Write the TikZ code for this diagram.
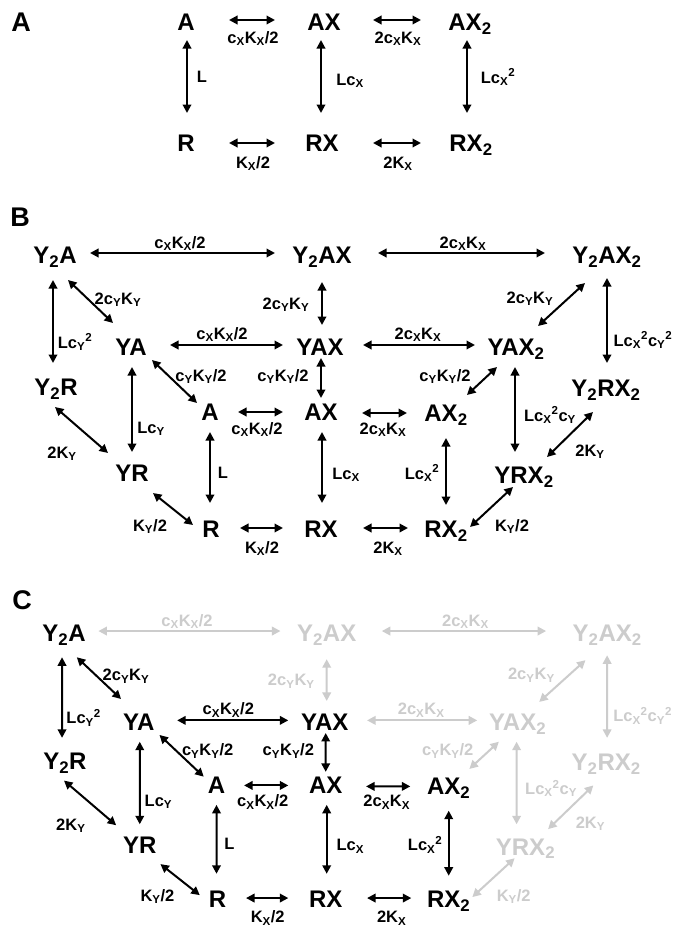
\documentclass[tikz,border=0pt]{standalone}
\usepackage{fontspec}
\setmainfont{Liberation Sans}
\usetikzlibrary{arrows.meta}
\newcommand\sbx[1]{\textsubscript{#1}}
\newcommand\spx[1]{\textsuperscript{#1}}
\tikzset{
 nd/.style={font=\fontsize{24bp}{28bp}\selectfont\bfseries, inner sep=0pt, text height=17bp, text depth=0pt},
 lb/.style={font=\fontsize{16.5bp}{19bp}\selectfont\bfseries, inner sep=0pt, text height=12bp, text depth=0pt},
 pl/.style={font=\fontsize{27bp}{30bp}\selectfont\bfseries, inner sep=0pt, text height=19bp, text depth=0pt},
 arr/.style={{Triangle[length=8.5bp,width=8.5bp]}-{Triangle[length=8.5bp,width=8.5bp]}, line width=2bp},
 gA/.style={},
}
\newcommand\edg[5][]{\draw[arr,#1] ([shift={#3}]#2.center) -- ([shift={#5}]#4.center);}
\newcommand\panelB{%
\node[nd] (Y2A) at (55,255) {Y\sbx{2}A};
\node[nd,gA] (Y2AX) at (322,255) {Y\sbx{2}AX};
\node[nd,gA] (Y2AX2) at (607,255) {Y\sbx{2}AX\sbx{2}};
\node[nd] (YA) at (131,347) {YA};
\node[nd] (YAX) at (320,347) {YAX};
\node[nd,gA] (YAX2) at (516,347) {YAX\sbx{2}};
\node[nd] (Y2R) at (56,387) {Y\sbx{2}R};
\node[nd,gA] (Y2RX2) at (606,388) {Y\sbx{2}RX\sbx{2}};
\node[nd] (A) at (210,412) {A};
\node[nd] (AX) at (321,412) {AX};
\node[nd] (AX2) at (446,413) {AX\sbx{2}};
\node[nd] (YR) at (132,473) {YR};
\node[nd,gA] (YRX2) at (524,475) {YRX\sbx{2}};
\node[nd] (R) at (211,529) {R};
\node[nd] (RX) at (321,529) {RX};
\node[nd] (RX2) at (446,529) {RX\sbx{2}};
\edg[gA]{Y2A}{(35,-2)}{Y2AX}{(-47,-2)}
\edg[gA]{Y2AX}{(56,-2)}{Y2AX2}{(-62,-2)}
\edg{Y2A}{(-2,25)}{Y2R}{(-3,-24)}
\edg{Y2A}{(13,25)}{YA}{(-18,-24)}
\edg[gA]{Y2AX}{(0,27)}{YAX}{(2,-22)}
\edg[gA]{Y2AX2}{(-22,28)}{YAX2}{(22,-21)}
\edg[gA]{Y2AX2}{(0,23)}{Y2RX2}{(1,-25)}
\edg{YA}{(39,-2)}{YAX}{(-37,-2)}
\edg[gA]{YAX}{(43,-2)}{YAX2}{(-41,-2)}
\edg{YA}{(21,13)}{A}{(-13,-9)}
\edg{YAX}{(1,11)}{AX}{(0,-14)}
\edg[gA]{YAX2}{(-19,20)}{AX2}{(21,-18)}
\edg{YA}{(1,20)}{YR}{(0,-21)}
\edg[gA]{YAX2}{(-1,20)}{YRX2}{(-9,-23)}
\edg{Y2R}{(-1,20)}{YR}{(-24,-20)}
\edg[gA]{Y2RX2}{(-13,24)}{YRX2}{(23,-18)}
\edg{A}{(28,0)}{AX}{(-38,0)}
\edg{AX}{(41,1)}{AX2}{(-39,0)}
\edg{A}{(0,20)}{R}{(-1,-26)}
\edg{AX}{(1,20)}{RX}{(1,-26)}
\edg{AX2}{(0,25)}{RX2}{(0,-24)}
\edg{YR}{(21,20)}{R}{(-18,-4)}
\edg[gA]{YRX2}{(-11,12)}{RX2}{(24,-2)}
\edg{R}{(29,-1)}{RX}{(-38,-1)}
\edg{RX}{(42,-1)}{RX2}{(-38,-1)}
\node[lb,gA] (l1) at (180,242) {c\sbx{X}K\sbx{X}/2};
\node[lb,gA] (l2) at (463,242) {2c\sbx{X}K\sbx{X}};
\node[lb] (l3) at (75,342) {Lc\sbx{Y}\spx{2}};
\node[lb] (l4) at (118,298) {2c\sbx{Y}K\sbx{Y}};
\node[lb,gA] (l5) at (286,303) {2c\sbx{Y}K\sbx{Y}};
\node[lb,gA] (l6) at (530,297) {2c\sbx{Y}K\sbx{Y}};
\node[lb,gA] (l7) at (643,340) {Lc\sbx{X}\spx{2}c\sbx{Y}\spx{2}};
\node[lb] (l8) at (222,333) {c\sbx{X}K\sbx{X}/2};
\node[lb,gA] (l9) at (418,333) {2c\sbx{X}K\sbx{X}};
\node[lb] (l10) at (201,375) {c\sbx{Y}K\sbx{Y}/2};
\node[lb] (l11) at (283,375) {c\sbx{Y}K\sbx{Y}/2};
\node[lb,gA] (l12) at (445,375) {c\sbx{Y}K\sbx{Y}/2};
\node[lb] (l13) at (151,427) {Lc\sbx{Y}};
\node[lb,gA] (l14) at (550,415) {Lc\sbx{X}\spx{2}c\sbx{Y}};
\node[lb] (l15) at (62,452) {2K\sbx{Y}};
\node[lb,gA] (l16) at (590,450) {2K\sbx{Y}};
\node[lb] (l17) at (257,428) {c\sbx{X}K\sbx{X}/2};
\node[lb] (l18) at (383,428) {2c\sbx{X}K\sbx{X}};
\node[lb] (l19) at (223,472) {L};
\node[lb] (l20) at (346,473) {Lc\sbx{X}};
\node[lb] (l21) at (422,473) {Lc\sbx{X}\spx{2}};
\node[lb] (l22) at (150,525) {K\sbx{Y}/2};
\node[lb,gA] (l23) at (512,525) {K\sbx{Y}/2};
\node[lb] (l24) at (262,547) {K\sbx{X}/2};
\node[lb] (l25) at (388,547) {2K\sbx{X}};
}
\begin{document}
\begin{tikzpicture}[x=1bp,y=-1bp]
\fill[white] (0,0) rectangle (674,928);
\path[use as bounding box] (0,0) rectangle (674,928);
\node[pl] (pA) at (21,22) {A};
\node[pl] (pB) at (20,217) {B};
\node[pl] (pC) at (22,600) {C};
\begin{scope}[name prefix=a-]
\node[nd] (A) at (186,22) {A};
\node[nd] (AX) at (324,22) {AX};
\node[nd] (AX2) at (470,22) {AX\sbx{2}};
\node[nd] (R) at (186,143) {R};
\node[nd] (RX) at (322,143) {RX};
\node[nd] (RX2) at (471,143) {RX\sbx{2}};
\edg{A}{(43,-2)}{AX}{(-49,-2)}
\edg{AX}{(49,-2)}{AX2}{(-49,-2)}
\edg{A}{(1,18)}{R}{(1,-30)}
\edg{AX}{(-3,18)}{RX}{(-1,-30)}
\edg{AX2}{(-3,18)}{RX2}{(-4,-30)}
\edg{R}{(43,0)}{RX}{(-47,0)}
\edg{RX}{(51,0)}{RX2}{(-50,0)}
\node[lb] (l1) at (253,37) {c\sbx{X}K\sbx{X}/2};
\node[lb] (l2) at (398,37) {2c\sbx{X}K\sbx{X}};
\node[lb] (l3) at (202,76) {L};
\node[lb] (l4) at (350,79) {Lc\sbx{X}};
\node[lb] (l5) at (498,77) {Lc\sbx{X}\spx{2}};
\node[lb] (l6) at (253,162) {K\sbx{X}/2};
\node[lb] (l7) at (398,162) {2K\sbx{X}};
\end{scope}
\begin{scope}[name prefix=b-]
\panelB
\end{scope}
\begin{scope}[name prefix=c-, gA/.style={color=black!20}, shift={(64,633)}, xscale=0.984, yscale=0.971, shift={(-55,-255)}]
\panelB
\end{scope}
\end{tikzpicture}
\end{document}
